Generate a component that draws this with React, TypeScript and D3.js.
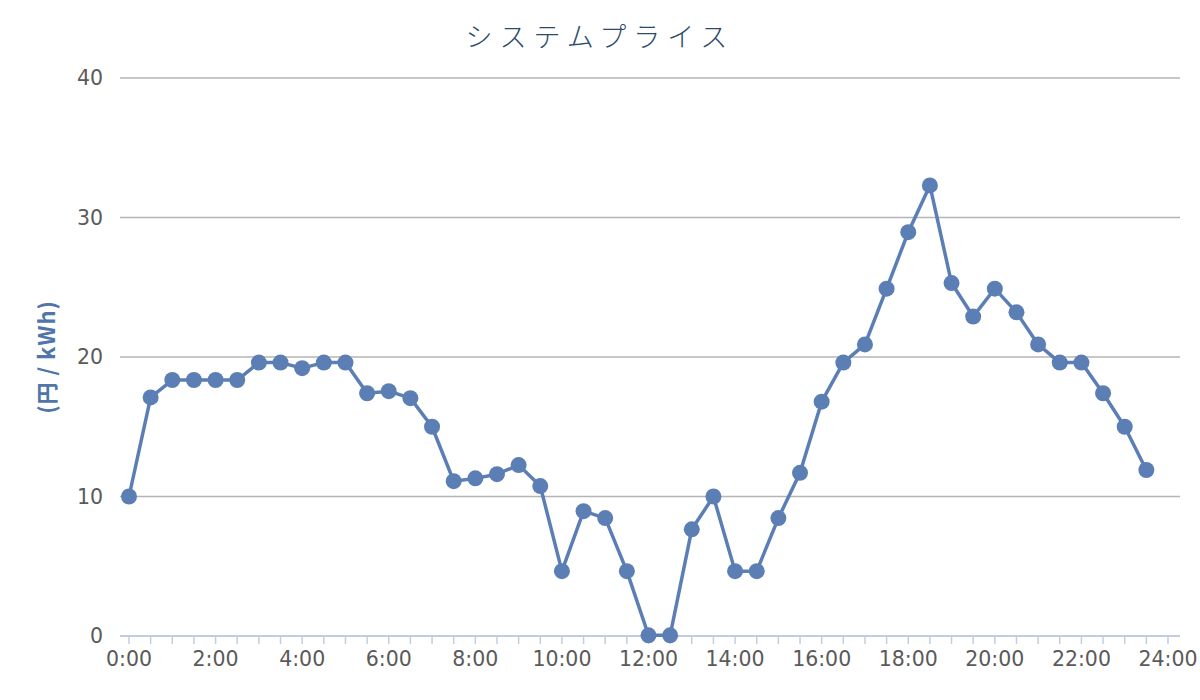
import React from 'react';
import * as d3 from 'd3';

// 30-minute slots, 0:00 .. 23:30
const slots = d3.range(48).map((i) => i * 0.5);

const prices = [
    10.0, 17.1, 18.35, 18.35, 18.35, 18.35, 19.6, 19.6, 19.2, 19.6,
    19.6, 17.4, 17.55, 17.05, 15.0, 11.1, 11.3, 11.6, 12.25, 10.75,
    4.65, 8.95, 8.45, 4.65, 0.05, 0.05, 7.65, 10.0, 4.65, 4.65,
    8.45, 11.7, 16.8, 19.6, 20.9, 24.9, 28.95, 32.3, 25.3, 22.9,
    24.9, 23.2, 20.9, 19.6, 19.6, 17.4, 15.0, 11.9,
];

const yTicks = [0, 10, 20, 30, 40];
const xLabels = [0, 2, 4, 6, 8, 10, 12, 14, 16, 18, 20, 22, 24];
const xMinor = d3.range(49).map((i) => i * 0.5);

const W = 1200;
const H = 700;
const left = 129;
const right = 1168;
const top = 78;
const bottom = 636;

export default function App() {
    const x = d3.scaleLinear().domain([0, 24]).range([left, right]);
    const y = d3.scaleLinear().domain([0, 40]).range([bottom, top]);

    const line = d3.line<number>()
        .x((d, i) => x(slots[i]))
        .y((d) => y(d));

    const lineColor = '#5b7fb4';

    return (
        <svg width={W} height={H} style={{ position: 'absolute', left: 0, top: 0 }}>
            <rect width={W} height={H} fill="#fff" />
            <text
                x={600}
                y={47}
                textAnchor="middle"
                fontFamily="'Noto Sans CJK JP'"
                fontWeight={300}
                fontSize={27}
                letterSpacing={7}
                fill="#2c4a6b"
            >
                システムプライス
            </text>

            {yTicks.filter((t) => t > 0).map((t) => (
                <line key={t} x1={120} x2={1180} y1={y(t)} y2={y(t)} stroke="#b5b5b5" strokeWidth={1.5} />
            ))}
            {yTicks.map((t) => (
                <text
                    key={t}
                    x={103}
                    y={y(t) + 7}
                    textAnchor="end"
                    fontFamily="'DejaVu Sans'"
                    fontSize={20.5}
                    fill="#5a5a5a"
                >
                    {t}
                </text>
            ))}

            <line x1={120} x2={1180} y1={bottom} y2={bottom} stroke="#c3cde0" strokeWidth={2} />
            {xMinor.map((t) => (
                <line key={t} x1={x(t)} x2={x(t)} y1={bottom} y2={bottom + 8} stroke="#c3cde0" strokeWidth={1.5} />
            ))}
            {xLabels.map((t) => (
                <text
                    key={t}
                    x={x(t)}
                    y={666}
                    textAnchor="middle"
                    fontFamily="'DejaVu Sans'"
                    fontSize={20.5}
                    fill="#5a5a5a"
                >
                    {`${t}:00`}
                </text>
            ))}

            <text
                transform={`translate(55, 357) rotate(-90)`}
                textAnchor="middle"
                fontFamily="'Noto Sans CJK JP'"
                fontWeight={700}
                fontSize={22}
                letterSpacing={1}
                fill="#4f75aa"
            >
                (円 / kWh)
            </text>

            <path d={line(prices) || ''} fill="none" stroke={lineColor} strokeWidth={3.5} strokeLinejoin="round" />
            {prices.map((v, i) => (
                <circle key={i} cx={x(slots[i])} cy={y(v)} r={8} fill={lineColor} />
            ))}
        </svg>
    );
}
